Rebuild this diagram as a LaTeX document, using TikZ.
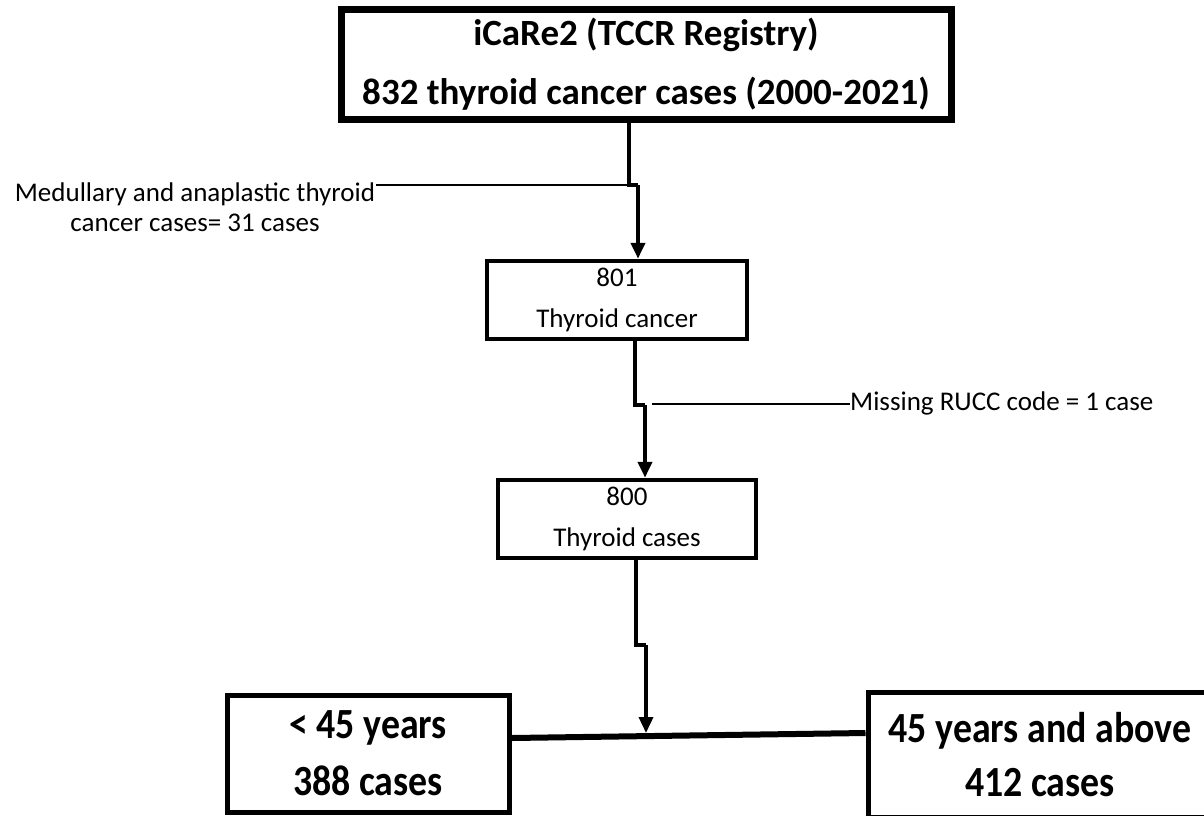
\documentclass[tikz,border=0pt]{standalone}
\usepackage{fontspec}
\setmainfont{Carlito}
\newfontfamily\condbold[FakeStretch=0.88]{Carlito}
\usetikzlibrary{arrows.meta}
\begin{document}
\begin{tikzpicture}[x=1pt,y=-1pt,
  box/.style={draw=black, rectangle, align=center, inner sep=0pt, fill=white},
  big/.style={font=\fontsize{37}{59}\selectfont\bfseries},
  bigb/.style={font=\condbold\fontsize{43}{57}\selectfont\bfseries},
  mid/.style={font=\fontsize{27}{41}\selectfont},
  lab/.style={font=\fontsize{27}{30}\selectfont, align=center, inner sep=1pt},
  conn/.style={draw=black, line width=4pt},
  side/.style={draw=black, line width=2pt},
  tip/.style={-{Triangle[length=16pt,width=14pt]}}
]
\fill[white] (0,0) rectangle (1204,815);
\useasboundingbox (0,0) rectangle (1204,815);

% boxes
\node[box, big, line width=7pt, minimum width=610pt, minimum height=110pt] (top) at (646,64)
  {iCaRe2 (TCCR Registry)\\832 thyroid cancer cases (2000-2021)};
\node[box, mid, line width=4.5pt, minimum width=260pt, minimum height=78pt] (b2) at (617,300)
  {801\\Thyroid cancer};
\node[box, mid, line width=4.5pt, minimum width=258pt, minimum height=78pt] (b3) at (627,519)
  {800\\Thyroid cases};
\node[box, bigb, line width=5pt, minimum width=282pt, minimum height=117pt] (b4) at (368,753.5)
  {< 45 years\\388 cases};
\node[box, font=\condbold\fontsize{43}{54}\selectfont\bfseries, line width=5pt, minimum width=364pt, minimum height=125pt] (b5) at (1050,754.5)
  {\hspace*{-20pt}45 years and above\\\hspace*{-20pt}412 cases};

% labels
\node[lab] (lab1) at (195,207) {Medullary and anaplastic thyroid\\cancer cases= 31 cases};
\node[lab, anchor=west, inner sep=0pt] (lab2) at (850,403) {Missing RUCC code = 1 case};

% connector 1
\coordinate (j1) at (629,185);
\coordinate (j1a) at (638,185);
\draw[conn, line join=miter] (top.south -| j1) -- (j1) -- (j1a);
\draw[conn, tip] (j1a) -- (j1a |- b2.north);
\draw[side] (lab1.east |- j1) -- (j1);

% connector 2
\coordinate (j2) at (635,405);
\coordinate (j2a) at (645,405);
\coordinate (s2) at (652,404);
\draw[conn, line join=miter] (b2.south -| j2) -- (j2) -- (j2a);
\draw[conn, tip] (j2a) -- (j2a |- b3.north);
\draw[side] (s2) -- (lab2.west |- s2);

% connector 3
\coordinate (j3) at (636,645);
\coordinate (j3a) at (646,645);
\coordinate (h1) at (509,738);
\coordinate (h2) at (868,733);
\coordinate (hm) at (646,733);
\draw[conn, line width=3.5pt, line join=miter] (b3.south -| j3) -- (j3) -- (j3a);
\draw[conn, line width=3.5pt, tip] (j3a) -- (hm);
\draw[draw=black, line width=6pt] (b4.east |- h1) -- (b5.west |- h2);
\end{tikzpicture}
\end{document}
